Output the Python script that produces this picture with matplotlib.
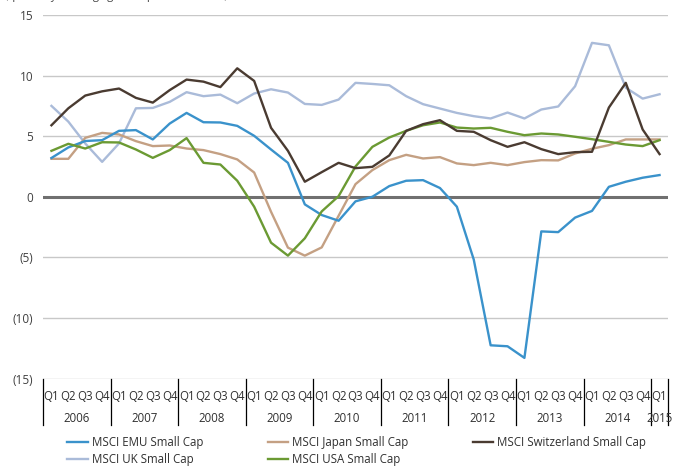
import matplotlib.pyplot as plt
import matplotlib.transforms as mtransforms
import numpy as np

plt.rcParams['font.family'] = ['Open Sans', 'DejaVu Sans']

# Quarterly values, Q1 2006 .. Q1 2015
years = ["2006", "2007", "2008", "2009", "2010", "2011", "2012", "2013", "2014", "2015"]
quarters = ["Q1", "Q2", "Q3", "Q4"]

emu = [3.2, 4.07, 4.6, 4.67, 5.44, 5.5, 4.73, 6.04, 6.92, 6.15, 6.13, 5.85, 5.03,
       3.9, 2.8, -0.63, -1.51, -1.98, -0.38, 0.0, 0.88, 1.32, 1.37, 0.72, -0.82,
       -5.18, -12.26, -12.34, -13.3, -2.86, -2.92, -1.72, -1.17, 0.82, 1.24, 1.57, 1.79]
japan = [3.13, 3.13, 4.86, 5.27, 5.14, 4.59, 4.18, 4.23, 3.98, 3.85, 3.52, 3.08, 2.0,
         -1.24, -4.2, -4.86, -4.18, -1.57, 1.04, 2.2, 3.02, 3.46, 3.16, 3.27, 2.75,
         2.61, 2.8, 2.61, 2.86, 3.02, 3.0, 3.57, 3.96, 4.26, 4.73, 4.73, 4.73]
swiss = [5.9, 7.3, 8.35, 8.7, 8.93, 8.16, 7.77, 8.8, 9.67, 9.5, 9.05, 10.6, 9.56,
         5.69, 3.79, 1.24, 2.03, 2.8, 2.36, 2.47, 3.41, 5.44, 5.99, 6.32, 5.44,
         5.36, 4.67, 4.12, 4.5, 3.93, 3.52, 3.68, 3.71, 7.36, 9.4, 5.55, 3.52]
uk = [7.5, 6.2, 4.4, 2.88, 4.4, 7.3, 7.33, 7.83, 8.63, 8.3, 8.43, 7.72, 8.52,
      8.87, 8.6, 7.66, 7.58, 8.02, 9.4, 9.31, 9.2, 8.3, 7.64, 7.28, 6.92,
      6.65, 6.46, 6.95, 6.46, 7.2, 7.45, 9.12, 12.7, 12.5, 9.0, 8.1, 8.46]
usa = [3.79, 4.37, 3.98, 4.5, 4.48, 3.9, 3.21, 3.85, 4.84, 2.8, 2.66, 1.32, -0.82,
       -3.79, -4.86, -3.43, -1.21, 0.05, 2.5, 4.12, 4.89, 5.44, 5.9, 6.13, 5.71,
       5.63, 5.69, 5.36, 5.08, 5.22, 5.14, 4.95, 4.75, 4.53, 4.31, 4.18, 4.67]

yticks = [15, 10, 5, 0, -5, -10, -15]
ytick_labels = ["15", "10", "5", "0", "(5)", "(10)", "(15)"]

fig = plt.figure(figsize=(6.79, 4.68), dpi=100)
ax = fig.add_axes([43/679, 1 - 378.5/468, 625/679, 363.5/468])

x = np.arange(len(emu))
ax.set_xlim(-0.5, len(emu) - 0.5)
ax.set_ylim(-15, 15)

ax.set_yticks(yticks)
ax.set_yticklabels(ytick_labels, fontsize=8.5, color="#404040")
ax.grid(axis="y", color="#c8c8c8", lw=1.0)
ax.set_axisbelow(True)
ax.axhline(0, color="#707070", lw=2.2, zorder=1)
for s in ax.spines.values():
    s.set_visible(False)
ax.tick_params(axis="y", length=0, pad=7)

series = [("MSCI EMU Small Cap", emu, "#3a92cb"),
          ("MSCI UK Small Cap", uk, "#aabbd9"),
          ("MSCI Japan Small Cap", japan, "#c4a083"),
          ("MSCI USA Small Cap", usa, "#6b9a33"),
          ("MSCI Switzerland Small Cap", swiss, "#4a3b31")]
draw_order = [1, 2, 0, 3, 4]
lines = {}
for i in draw_order:
    name, vals, col = series[i]
    lines[i], = ax.plot(x, vals, color=col, lw=1.7, label=name, zorder=3)

# quarter / year labels underneath
qlabels = [quarters[i % 4] for i in range(len(emu))]
ax.set_xticks(x)
ax.set_xticklabels(qlabels, fontsize=8.3, color="#303030")
ax.tick_params(axis="x", length=0, pad=8)

trans = mtransforms.blended_transform_factory(ax.transData, ax.transAxes)
for k, yr in enumerate(years):
    start = 4 * k - 0.5
    end = min(4 * k + 3.5, len(emu) - 0.5)
    ax.text((start + end) / 2, -39.5 / 363.5, yr, transform=trans, ha="center",
            va="center", fontsize=8.3, color="#303030")
    ax.plot([start, start], [0, -46.5 / 363.5], transform=trans, color="black",
            lw=0.9, clip_on=False)
ax.plot([len(emu) - 0.5] * 2, [0, -46.5 / 363.5], transform=trans, color="black",
        lw=0.9, clip_on=False)

handles = [lines[i] for i in range(5)]
fig.legend(handles, [s[0] for s in series], ncol=3, loc="upper left",
           bbox_to_anchor=(57/679, 1 - 426/468), frameon=False, fontsize=8.3,
           handlelength=1.75, handletextpad=0.35, columnspacing=5.6,
           labelspacing=0.3, labelcolor="#303030")

fig.text(5/679, 1 + 1/468, "(quarterly earnings growth per share, in %)", fontsize=8,
         color="#404040", va="baseline")

fig.savefig("out.png", dpi=100)
